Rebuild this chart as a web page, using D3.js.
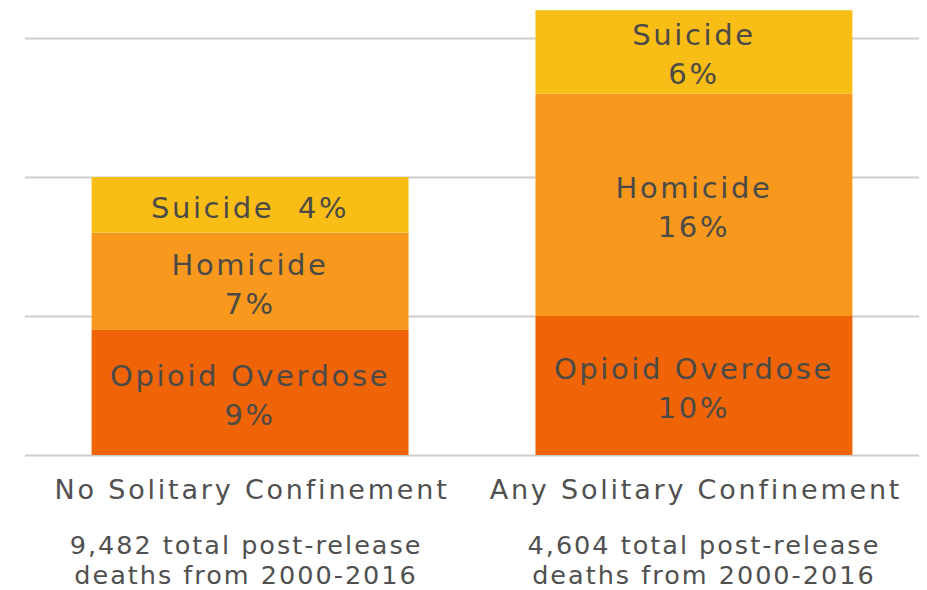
<!DOCTYPE html>
<html>
<head>
<meta charset="utf-8">
<script src="https://cdn.jsdelivr.net/npm/d3@7"></script>
<style>
  body { margin: 0; background: #fff; }
  text { font-family: "DejaVu Sans", sans-serif; }
</style>
</head>
<body>
<div id="chart"></div>
<script>
// data (percent of post-release deaths)
const categories = ["No Solitary Confinement", "Any Solitary Confinement"];
const causes = ["Opioid Overdose", "Homicide", "Suicide"];
const opioid = [9, 10];
const homicide = [7, 16];
const suicide = [4, 6];
const subtitles = [
  ["9,482 total post-release", "deaths from 2000-2016"],
  ["4,604 total post-release", "deaths from 2000-2016"]
];
const yTicks = [0, 10, 20, 30];

const width = 927, height = 590;
const colors = { "Opioid Overdose": "#ef6406", "Homicide": "#f8991d", "Suicide": "#f8be16" };

const svg = d3.select("#chart").append("svg").attr("width", width).attr("height", height);

// scales
const x = d3.scaleBand().domain(categories).range([25, 919]).paddingInner(0.286).paddingOuter(0.15);
const y = d3.scaleLinear().domain([0, 32]).range([455, 10.2]);

// grid lines
svg.append("g")
  .attr("transform", "translate(25,0)")
  .call(d3.axisLeft(y).tickValues(yTicks).tickSize(-894).tickFormat(""))
  .call(g => g.select(".domain").remove())
  .call(g => g.selectAll("line").attr("stroke", "#cccccc").attr("stroke-width", 2));

// stack
const rows = categories.map((c, i) => ({ cat: c, "Opioid Overdose": opioid[i], "Homicide": homicide[i], "Suicide": suicide[i] }));
const series = d3.stack().keys(causes)(rows);

const layer = svg.append("g").selectAll("g").data(series).enter().append("g")
  .attr("fill", d => colors[d.key]);

layer.selectAll("rect").data(d => d).enter().append("rect")
  .attr("x", d => x(d.data.cat))
  .attr("y", d => y(d[1]))
  .attr("width", x.bandwidth())
  .attr("height", d => y(d[0]) - y(d[1]));

// segment labels
series.forEach(s => {
  s.forEach(d => {
    const cx = x(d.data.cat) + x.bandwidth() / 2;
    const cy = (y(d[0]) + y(d[1])) / 2 + 2;
    const val = d[1] - d[0];
    const t = svg.append("text")
      .attr("text-anchor", "middle")
      .attr("fill", "#4b4a46")
      .attr("font-size", 29)
      .attr("letter-spacing", 2.6)
      .attr("x", cx);
    if (y(d[0]) - y(d[1]) < 70) {
      t.attr("y", cy + 11).attr("xml:space", "preserve").text(s.key + "  " + val + "%");
    } else {
      t.append("tspan").attr("x", cx).attr("y", cy - 19.5 + 11).text(s.key);
      t.append("tspan").attr("x", cx).attr("y", cy + 19.5 + 11).text(val + "%");
    }
  });
});

// category labels
svg.append("g").selectAll("text").data(categories).enter().append("text")
  .attr("x", d => x(d) + x.bandwidth() / 2 + 2)
  .attr("y", 499)
  .attr("text-anchor", "middle")
  .attr("fill", "#505050")
  .attr("font-size", 27)
  .attr("letter-spacing", 2.8)
  .text(d => d);

// sub labels
categories.forEach((c, i) => {
  const cx = x(c) + x.bandwidth() / 2 + (i ? 10 : -4);
  const t = svg.append("text")
    .attr("text-anchor", "middle")
    .attr("fill", "#505050")
    .attr("font-size", 25.5)
    .attr("letter-spacing", 2);
  subtitles[i].forEach((line, j) => {
    t.append("tspan").attr("x", cx).attr("y", 554 + j * 30).text(line);
  });
});
</script>
</body>
</html>
